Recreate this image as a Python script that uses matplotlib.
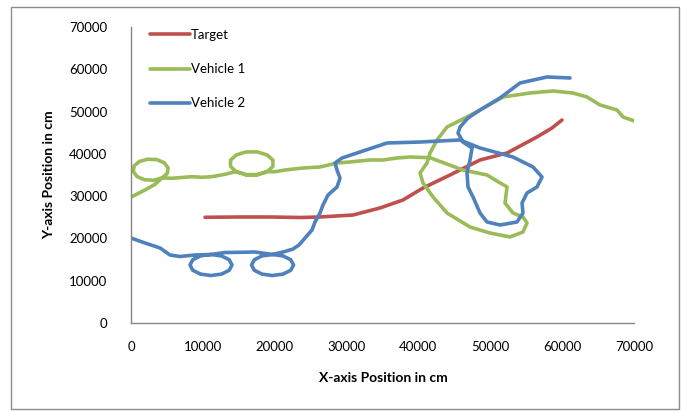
import matplotlib
matplotlib.use("Agg")
import matplotlib.pyplot as plt
from matplotlib.patches import Rectangle

plt.rcParams['font.family'] = ['Lato', 'DejaVu Sans']

# Target path (x, y in cm)
target_x = [10300, 15170, 19345, 23520, 26300, 30900, 34650, 37850, 40640, 44390,
            48570, 52330, 56500, 58590, 59980]
target_y = [25000, 25070, 25070, 24950, 25070, 25540, 27200, 29090, 31930, 35000,
            38550, 40200, 43990, 46120, 48010]

# Vehicle 1 path
v1_x = [100, 1950, 3340, 4330, 5050, 5160, 4630, 3590, 2310, 1160, 430, 320, 850,
        1890, 3170, 4330, 5660, 8450, 9840, 11230, 13080,
        14640, 16000, 17590, 18950, 19750, 19750, 18950, 17590, 16000, 14640, 13850,
        13850, 14640, 16000, 17590, 18950, 20040, 21430,
        23940, 26300, 28670, 30480, 33260, 35070, 37020,
        38830, 41610, 46200, 49540, 52330, 52050, 53160, 54550, 55110, 54550, 52750,
        49960, 47180, 43980, 42030, 40640, 40220, 41190, 41610, 42590, 43980, 46760,
        48570, 51770, 55530, 58730, 61510, 63460, 65270, 67640, 68470, 70420]
v1_y = [29870, 31450, 32800, 34320, 35380, 36700, 37890, 38640, 38740, 38190, 37130,
        35800, 34620, 33870, 33770, 34320, 34220, 34600, 34460, 34600, 35170,
        35800, 35070, 35070, 35800, 37030, 38500, 39730, 40460, 40460, 39730, 38500,
        37030, 35800, 35070, 35070, 35800, 35780, 36180,
        36660, 36890, 37840, 38080, 38550, 38550, 39020,
        39260, 39090, 36180, 35000, 32160, 28380, 26010, 25070, 23650,
        21520, 20340, 21280, 22700, 26010, 29800, 33110, 35470, 37840, 40200, 43280,
        46350, 48720, 50370, 53450, 54390, 54870, 54390, 53450, 51560, 50370, 48720,
        47540]

# Vehicle 2 path
v2_x = [0, 1950, 4040, 5430, 6820, 8910,
        11130, 12590, 13670, 14060, 13670, 12590, 11130, 9670, 8600, 8210, 8600, 9670,
        11130, 13080, 15170, 17260,
        19690, 21150, 22230, 22620, 22230, 21150, 19690, 18230, 17160, 16770, 17160,
        18230, 19690, 21430, 22550, 23380, 24220, 25190,
        25610, 26300, 26720, 27420, 28670, 29090, 28670,
        28390, 29360, 31450, 35630, 40220, 45790, 48570, 53160, 55950, 57200, 56500,
        55110, 54420, 54550, 53720, 51350, 49540, 48570, 47600, 46900, 46760, 47180,
        47460, 46200, 45510, 45790, 46900, 48570, 51350, 54140, 57890, 61090]
v2_y = [20100, 18920, 17740, 16080, 15730, 16080,
        16200, 15870, 14960, 13720, 12470, 11560, 11230, 11560, 12470, 13720, 14960,
        15870, 16200, 16670, 16720, 16790,
        16200, 15870, 14960, 13720, 12470, 11560, 11230, 11560, 12470, 13720, 14960,
        15870, 16200, 16910, 17500, 18450, 20100, 21990,
        23890, 26010, 27910, 30270, 32160, 34290, 36180, 37840, 39020, 40200, 42570,
        42800, 43280, 41390, 39260, 36890,
        34530, 32160, 30740, 28380, 26010, 23890, 23180, 23890, 26010, 29800, 32160,
        35470, 38550, 41390, 42800, 44930, 46350, 48480, 50370, 53210, 56760, 58180,
        57940]

ticks = [0, 10000, 20000, 30000, 40000, 50000, 60000, 70000]
tick_labels = [str(t) for t in ticks]

W, H = 686, 411
fig = plt.figure(figsize=(W / 100, H / 100), dpi=100)
fig.patches.append(Rectangle((11 / W, 2 / H), 668 / W, 402 / H, transform=fig.transFigure,
                             fill=False, edgecolor='#8c8c8c', linewidth=1.0))

ax = fig.add_axes([131 / W, (H - 323) / H, 503 / W, 296 / H])
lw = 2.6
ax.plot(target_x, target_y, color='#C0504D', lw=lw, label='Target',
        solid_joinstyle='round', solid_capstyle='round')
ax.plot(v1_x, v1_y, color='#9BBB59', lw=lw, label='Vehicle 1',
        solid_joinstyle='round', solid_capstyle='round')
ax.plot(v2_x, v2_y, color='#4F81BD', lw=lw, label='Vehicle 2',
        solid_joinstyle='round', solid_capstyle='round')

ax.set_xlim(0, 70000)
ax.set_ylim(0, 70000)
ax.set_xticks(ticks)
ax.set_xticklabels(tick_labels)
ax.set_yticks(ticks)
ax.set_yticklabels(tick_labels)
for s in ['top', 'right']:
    ax.spines[s].set_visible(False)
for s in ['left', 'bottom']:
    ax.spines[s].set_color('#868686')
    ax.spines[s].set_linewidth(1.0)
ax.tick_params(axis='both', length=0, labelsize=9.5, colors='black')
ax.tick_params(axis='x', pad=13)
ax.tick_params(axis='y', pad=17)
ax.set_xlim(0, 70000)
ax.set_ylim(0, 70000)

ax.set_xlabel('X-axis Position in cm', fontsize=10, fontweight='bold')
ax.set_ylabel('Y-axis Position in cm', fontsize=10, fontweight='bold')
ax.xaxis.set_label_coords(0.501, -0.167)
ax.yaxis.set_label_coords(-0.152, 0.5)

leg = ax.legend(loc='upper left', bbox_to_anchor=(150 / W, (H - 29) / H),
                bbox_transform=fig.transFigure, frameon=False, fontsize=9.5,
                handlelength=3.0, handletextpad=0.1, labelspacing=1.68,
                borderpad=0, borderaxespad=0)

fig.savefig('out.png', dpi=100)
